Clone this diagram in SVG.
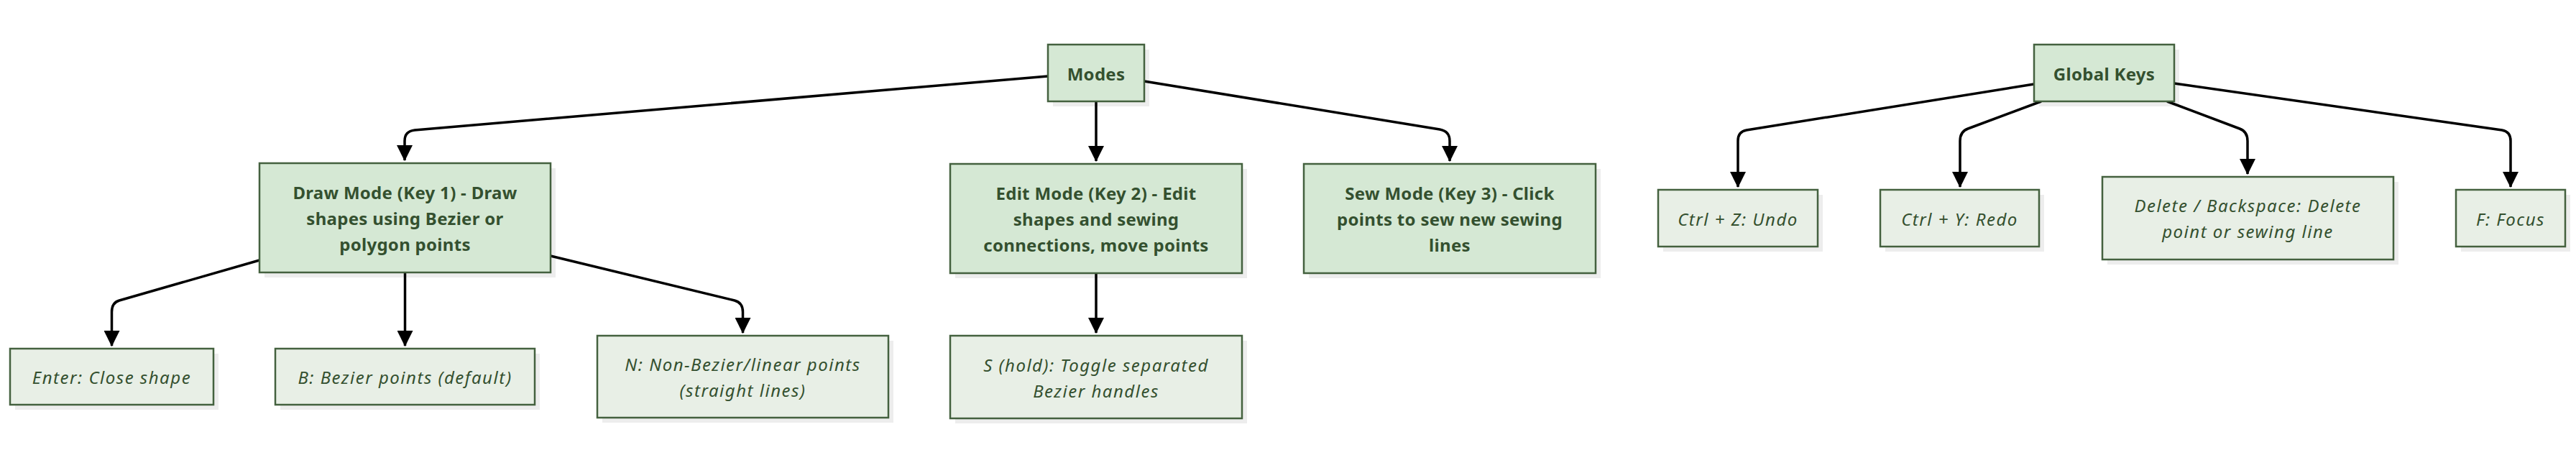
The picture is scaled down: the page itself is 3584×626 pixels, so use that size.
<svg xmlns="http://www.w3.org/2000/svg" width="3584" height="626" viewBox="0 0 3584 626">
<defs>
<marker id="arr" markerUnits="userSpaceOnUse" markerWidth="22" markerHeight="22" viewBox="0 0 20 20" refX="19" refY="10" orient="auto">
<path d="M0,0 L20,10 L0,20 z" fill="#000"/>
</marker>
</defs>
<style>
.sh{fill:#000;opacity:0.07}
.main{fill:#d5e8d4;stroke:#44613f;stroke-width:2.5}
.leaf{fill:#e8efe6;stroke:#44613f;stroke-width:2.5}
.tb{font-family:"Noto Sans","Open Sans",sans-serif;font-weight:bold;font-size:24px;letter-spacing:0.3px;fill:#34502f;text-anchor:middle;dominant-baseline:central}
.ti{font-family:"Noto Sans","Open Sans",sans-serif;font-style:italic;font-size:24px;letter-spacing:1.5px;fill:#34502f;text-anchor:middle;dominant-baseline:central}
.e{fill:none;stroke:#000;stroke-width:3.5;marker-end:url(#arr)}
</style>
<rect width="3584" height="626" fill="#fff"/>
<g id="connectors">
<path class="e" d="M1458,106 L577,181 Q563,182.5 563,196 L563,223"/>
<path class="e" d="M1525,141 L1525,224"/>
<path class="e" d="M1592,113 L2003,180 Q2017,182.5 2017,196 L2017,224"/>
<path class="e" d="M361,362 L166,418 Q155.5,421 155.5,434 L155.5,481"/>
<path class="e" d="M563.5,379 L563.5,481"/>
<path class="e" d="M766,356 L1022,418 Q1033.5,421 1033.5,434 L1033.5,463"/>
<path class="e" d="M1525,380 L1525,463"/>
<path class="e" d="M2830,117 L2430,181 Q2418,183 2418,196 L2418,260"/>
<path class="e" d="M2840,141 L2738,179 Q2727,183 2727,196 L2727,260"/>
<path class="e" d="M3015,141 L3116,179 Q3127,183 3127,196 L3127,242"/>
<path class="e" d="M3025,116 L3481,181 Q3493,183 3493,196 L3493,260"/>
</g>
<g id="modes">
<rect class="sh" x="1465" y="69" width="134" height="79"/>
<rect class="main" x="1458" y="62" width="134" height="79"/>
<text class="tb" x="1525" y="102">Modes</text>
</g>
<g id="draw">
<rect class="sh" x="368" y="234" width="405" height="152"/>
<rect class="main" x="361" y="227" width="405" height="152"/>
<text class="tb" x="563.5" y="267">Draw Mode (Key 1) - Draw</text>
<text class="tb" x="563.5" y="303">shapes using Bezier or</text>
<text class="tb" x="563.5" y="339">polygon points</text>
</g>
<g id="edit">
<rect class="sh" x="1329" y="235" width="406" height="152"/>
<rect class="main" x="1322" y="228" width="406" height="152"/>
<text class="tb" x="1525" y="268">Edit Mode (Key 2) - Edit</text>
<text class="tb" x="1525" y="304">shapes and sewing</text>
<text class="tb" x="1525" y="340">connections, move points</text>
</g>
<g id="sew">
<rect class="sh" x="1821" y="235" width="406" height="152"/>
<rect class="main" x="1814" y="228" width="406" height="152"/>
<text class="tb" x="2017" y="268">Sew Mode (Key 3) - Click</text>
<text class="tb" x="2017" y="304">points to sew new sewing</text>
<text class="tb" x="2017" y="340">lines</text>
</g>
<g id="enter">
<rect class="sh" x="21" y="492" width="283" height="78"/>
<rect class="leaf" x="14" y="485" width="283" height="78"/>
<text class="ti" x="155.5" y="524">Enter: Close shape</text>
</g>
<g id="bezier">
<rect class="sh" x="390" y="492" width="361" height="78"/>
<rect class="leaf" x="383" y="485" width="361" height="78"/>
<text class="ti" x="563.5" y="524">B: Bezier points (default)</text>
</g>
<g id="nonbezier">
<rect class="sh" x="838" y="474" width="405" height="114"/>
<rect class="leaf" x="831" y="467" width="405" height="114"/>
<text class="ti" x="1033.5" y="506">N: Non-Bezier/linear points</text>
<text class="ti" x="1033.5" y="542">(straight lines)</text>
</g>
<g id="shold">
<rect class="sh" x="1329" y="474" width="406" height="115"/>
<rect class="leaf" x="1322" y="467" width="406" height="115"/>
<text class="ti" x="1525" y="507">S (hold): Toggle separated</text>
<text class="ti" x="1525" y="543">Bezier handles</text>
</g>
<g id="globalkeys">
<rect class="sh" x="2837" y="69" width="195" height="79"/>
<rect class="main" x="2830" y="62" width="195" height="79"/>
<text class="tb" x="2927.5" y="102">Global Keys</text>
</g>
<g id="undo">
<rect class="sh" x="2314" y="271" width="222" height="79"/>
<rect class="leaf" x="2307" y="264" width="222" height="79"/>
<text class="ti" x="2418" y="304">Ctrl + Z: Undo</text>
</g>
<g id="redo">
<rect class="sh" x="2623" y="271" width="221" height="79"/>
<rect class="leaf" x="2616" y="264" width="221" height="79"/>
<text class="ti" x="2726.5" y="304">Ctrl + Y: Redo</text>
</g>
<g id="delete">
<rect class="sh" x="2932" y="253" width="405" height="115"/>
<rect class="leaf" x="2925" y="246" width="405" height="115"/>
<text class="ti" x="3127.5" y="285">Delete / Backspace: Delete</text>
<text class="ti" x="3127.5" y="321">point or sewing line</text>
</g>
<g id="focus">
<rect class="sh" x="3424" y="271" width="152" height="79"/>
<rect class="leaf" x="3417" y="264" width="152" height="79"/>
<text class="ti" x="3493" y="304">F: Focus</text>
</g>
</svg>
